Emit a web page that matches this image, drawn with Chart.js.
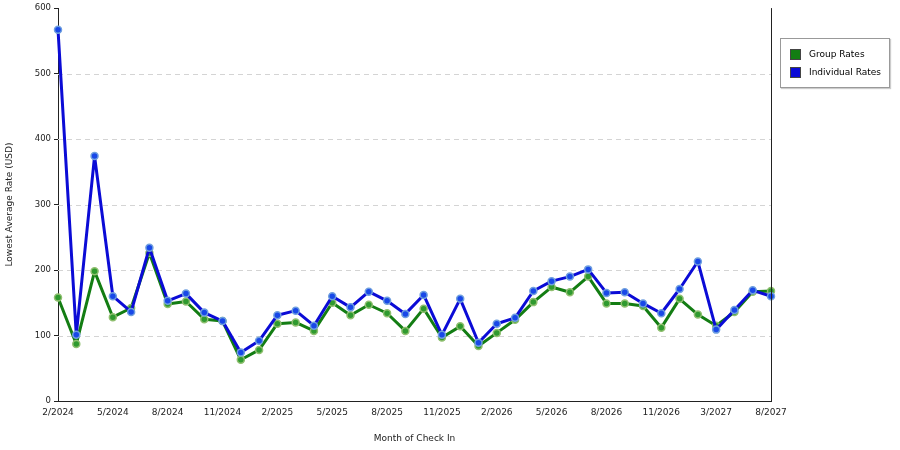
<!DOCTYPE html>
<html><head><meta charset="utf-8">
<script src="https://cdn.jsdelivr.net/npm/chart.js@4"></script>
<style>
body{margin:0;background:#fff;font-family:"DejaVu Sans",sans-serif}
#wrap{position:relative;width:900px;height:450px}
#legend{position:absolute;left:780px;top:38px;width:108px;height:48px;border:1px solid #999;background:#fff;font-size:9px;font-family:"DejaVu Sans",sans-serif;box-shadow:1px 1px 1px #ccc}
.li{position:absolute;left:9px;height:12px;line-height:12px}
.sw{display:inline-block;width:11px;height:11px;vertical-align:middle;margin-right:8px;border:1px solid #444;box-sizing:border-box}
</style></head><body>
<div id="wrap"><canvas id="c" width="900" height="450"></canvas>
<div id="legend">
<div class="li" style="top:9px"><span class="sw" style="background:#137d13"></span>Group Rates</div>
<div class="li" style="top:27px"><span class="sw" style="background:#0b0bd6"></span>Individual Rates</div>
</div></div>
<script>
const months = ["2/2024","3/2024","4/2024","5/2024","6/2024","7/2024","8/2024","9/2024","10/2024","11/2024","12/2024",
"1/2025","2/2025","3/2025","4/2025","5/2025","6/2025","7/2025","8/2025","9/2025","10/2025","11/2025","12/2025",
"1/2026","2/2026","3/2026","4/2026","5/2026","6/2026","7/2026","8/2026","9/2026","10/2026","11/2026","12/2026",
"1/2027","3/2027","4/2027","6/2027","8/2027"];
const groupRates = [158,87,198,128,142,226,148,152,125,122,63,78,118,120,107,150,131,147,134,107,141,97,114,84,104,124,151,174,166,190,149,149,145,112,156,132,115,136,167,168];
const individualRates = [567,101,374,160,136,234,153,164,135,122,74,92,131,138,115,160,143,167,153,133,162,101,156,89,118,127,168,183,190,201,165,166,149,134,171,213,109,139,169,160];
const yTicks = [0,100,200,300,400,500,600];

const frame = {id:'frame',
beforeDatasetsDraw(ch){const a=ch.chartArea,c=ch.ctx,y=ch.scales.y;c.save();c.strokeStyle='#d4d4d4';c.lineWidth=1;c.setLineDash([5,4]);
 yTicks.forEach(v=>{if(v===0||v===600)return;const p=Math.round(y.getPixelForValue(v))+0.5;c.beginPath();c.moveTo(a.left,p);c.lineTo(a.right,p);c.stroke();});c.restore();},
afterDraw(ch){const a=ch.chartArea,c=ch.ctx;c.save();c.strokeStyle='#222';c.lineWidth=1;
c.beginPath();c.moveTo(a.right+0.5,a.top);c.lineTo(a.right+0.5,a.bottom);c.stroke();c.restore();}};

new Chart(document.getElementById('c'),{
type:'line',
data:{labels:months,datasets:[
{label:'Group Rates',data:groupRates,borderColor:'#137d13',backgroundColor:'#2f9a2f',pointBorderColor:'#8fbf6f',borderWidth:3,borderJoinStyle:'round',pointRadius:3.5,pointBorderWidth:1.5,order:1,tension:0},
{label:'Individual Rates',data:individualRates,borderColor:'#0b0bd6',backgroundColor:'#1848e8',pointBorderColor:'#6f9fdf',borderWidth:3,borderJoinStyle:'round',pointRadius:3.5,pointBorderWidth:1.5,order:0,tension:0}
]},
options:{responsive:false,animation:false,
layout:{padding:{top:5,right:129,left:0,bottom:6}},
plugins:{legend:{display:false},tooltip:{enabled:false}},
scales:{
x:{offset:false,grid:{display:false,drawTicks:true,tickLength:4},border:{color:'#222'},
 ticks:{autoSkip:false,maxRotation:0,color:'#222',font:{size:9,family:'DejaVu Sans'},padding:2,
  callback:(v,i)=>i%3===0?months[i]:''},
 title:{display:true,text:'Month of Check In',color:'#222',font:{size:9,family:'DejaVu Sans'},padding:{top:0,bottom:0}},
 afterFit(s){s.height=43;}},
y:{min:0,max:600,afterBuildTicks(s){s.ticks=yTicks.map(v=>({value:v}));},
 grid:{drawOnChartArea:false,tickColor:'#222',tickLength:4},border:{color:'#222'},
 ticks:{color:'#222',font:{size:8.5,family:'DejaVu Sans'},padding:3},
 title:{display:true,text:'Lowest Average Rate (USD)',color:'#222',font:{size:9,family:'DejaVu Sans'}},
 afterFit(s){s.width=58;}}
}},
plugins:[frame]
});
</script></body></html>
